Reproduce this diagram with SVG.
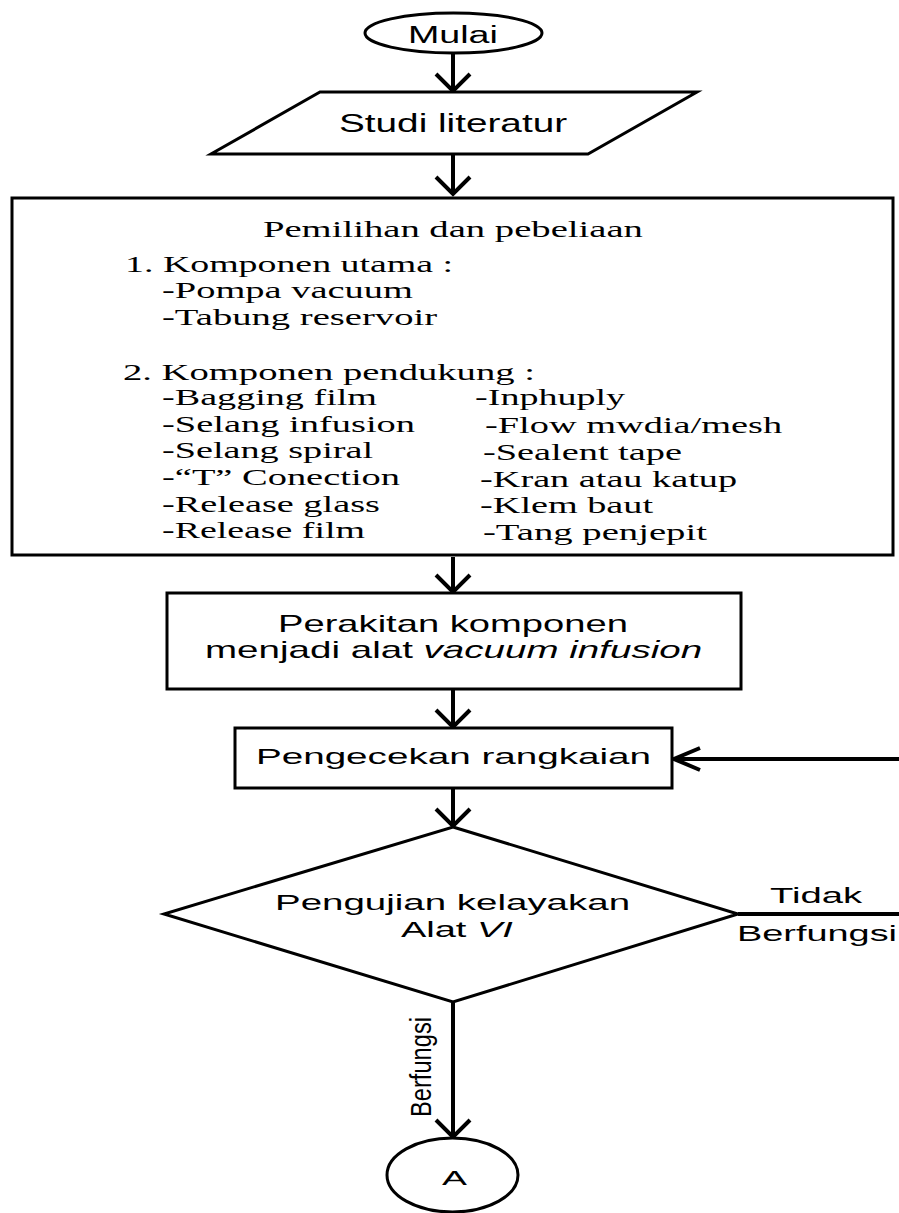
<svg xmlns="http://www.w3.org/2000/svg" width="899" height="1213" viewBox="0 0 899 1213">
<style>
.shape{fill:#fff;stroke:#000;stroke-width:3}
.sans{font-family:"Liberation Sans",Arial,sans-serif;font-size:22px;fill:#000}
.serif{font-family:"Liberation Serif","Times New Roman",serif;font-size:22.5px;fill:#000}
.conn{fill:none;stroke:#000;stroke-width:4}
</style>
<defs>
<marker id="arrV" markerUnits="userSpaceOnUse" viewBox="-22 -22 26 44" refX="0" refY="0" markerWidth="26" markerHeight="44" orient="auto">
<path d="M-17,-17 L0,0 L-17,17" fill="none" stroke="#000" stroke-width="4"/>
</marker>
<marker id="arrH" markerUnits="userSpaceOnUse" viewBox="-30 -16 34 32" refX="0" refY="0" markerWidth="34" markerHeight="32" orient="auto">
<path d="M-26,-11 L0,0 L-26,11" fill="none" stroke="#000" stroke-width="4"/>
</marker>
</defs>
<g id="connectors">
<line class="conn" x1="453" y1="53" x2="453" y2="91" marker-end="url(#arrV)"/>
<line class="conn" x1="453" y1="155" x2="453" y2="194" marker-end="url(#arrV)"/>
<line class="conn" x1="453" y1="557" x2="453" y2="592" marker-end="url(#arrV)"/>
<line class="conn" x1="453" y1="690" x2="453" y2="727" marker-end="url(#arrV)"/>
<line class="conn" x1="453" y1="789" x2="453" y2="826" marker-end="url(#arrV)"/>
<line class="conn" x1="453" y1="1003" x2="453" y2="1137" marker-end="url(#arrV)"/>
<line class="conn" x1="899" y1="759" x2="674" y2="759" marker-end="url(#arrH)"/>
<line class="conn" x1="738" y1="914" x2="899" y2="914"/>
<g transform="scale(1.72,1)">
<text class="sans" x="447.7" y="903" textLength="53.5" lengthAdjust="spacingAndGlyphs">Tidak</text>
<text class="sans" x="428.5" y="941" textLength="93" lengthAdjust="spacingAndGlyphs">Berfungsi</text>
</g>
<text class="sans" transform="translate(431,1067) scale(1.35,1) rotate(-90)" x="-50" y="0" textLength="100" lengthAdjust="spacingAndGlyphs">Berfungsi</text>
</g>
<g id="mulai">
<ellipse class="shape" cx="453.5" cy="33" rx="88.5" ry="20"/>
<text class="sans" transform="scale(1.72,1)" x="237.2" y="43" textLength="52.3" lengthAdjust="spacingAndGlyphs" style="font-size:23.5px">Mulai</text>
</g>
<g id="studi">
<polygon class="shape" points="320,92 697,92 588,154 211,154"/>
<text class="sans" transform="scale(1.72,1)" x="197.1" y="132" textLength="132.6" lengthAdjust="spacingAndGlyphs" style="font-size:25px">Studi literatur</text>
</g>
<g id="pemilihan">
<rect class="shape" x="12" y="198" width="881" height="357" stroke-width="3.5"/>
<g transform="scale(1.72,1)">
<text class="serif" x="152.9" y="237" textLength="220.9" lengthAdjust="spacingAndGlyphs">Pemilihan dan pebeliaan</text>
<text class="serif" x="72.7" y="272" textLength="190.7" lengthAdjust="spacingAndGlyphs">1. Komponen utama :</text>
<text class="serif" x="94.2" y="298" textLength="145.9" lengthAdjust="spacingAndGlyphs">-Pompa vacuum</text>
<text class="serif" x="94.2" y="325" textLength="159.9" lengthAdjust="spacingAndGlyphs">-Tabung reservoir</text>
<text class="serif" x="71.5" y="380" textLength="239.5" lengthAdjust="spacingAndGlyphs">2. Komponen pendukung :</text>
<text class="serif" x="94.2" y="405" textLength="125" lengthAdjust="spacingAndGlyphs">-Bagging film</text>
<text class="serif" x="94.2" y="432" textLength="147.1" lengthAdjust="spacingAndGlyphs">-Selang infusion</text>
<text class="serif" x="94.2" y="458" textLength="122.7" lengthAdjust="spacingAndGlyphs">-Selang spiral</text>
<text class="serif" x="94.2" y="485" textLength="138.4" lengthAdjust="spacingAndGlyphs">-“T” Conection</text>
<text class="serif" x="94.2" y="512" textLength="126.7" lengthAdjust="spacingAndGlyphs">-Release glass</text>
<text class="serif" x="94.2" y="538" textLength="118" lengthAdjust="spacingAndGlyphs">-Release film</text>
<text class="serif" x="276.2" y="405" textLength="87.2" lengthAdjust="spacingAndGlyphs">-Inphuply</text>
<text class="serif" x="282" y="433" textLength="172.7" lengthAdjust="spacingAndGlyphs">-Flow mwdia/mesh</text>
<text class="serif" x="280.8" y="460" textLength="115.7" lengthAdjust="spacingAndGlyphs">-Sealent tape</text>
<text class="serif" x="279.1" y="487" textLength="149.4" lengthAdjust="spacingAndGlyphs">-Kran atau katup</text>
<text class="serif" x="279.1" y="513" textLength="100.6" lengthAdjust="spacingAndGlyphs">-Klem baut</text>
<text class="serif" x="280.8" y="540" textLength="130.2" lengthAdjust="spacingAndGlyphs">-Tang penjepit</text>
</g>
</g>
<g id="perakitan">
<rect class="shape" x="167" y="593" width="574" height="96"/>
<g transform="scale(1.72,1)" style="font-size:23px">
<text class="sans" x="161.6" y="632" textLength="203.5" lengthAdjust="spacingAndGlyphs" style="font-size:23px">Perakitan komponen</text>
<text class="sans" x="119.2" y="658" textLength="289" lengthAdjust="spacingAndGlyphs" style="font-size:23px">menjadi alat <tspan font-style="italic">vacuum infusion</tspan></text>
</g>
</g>
<g id="pengecekan">
<rect class="shape" x="235" y="728" width="437" height="60"/>
<text class="sans" transform="scale(1.72,1)" x="148.8" y="764" textLength="229.7" lengthAdjust="spacingAndGlyphs">Pengecekan rangkaian</text>
</g>
<g id="pengujian">
<polygon class="shape" points="453,827 738,914 453,1002 164,914"/>
<g transform="scale(1.72,1)">
<text class="sans" x="159.9" y="910" textLength="206.4" lengthAdjust="spacingAndGlyphs">Pengujian kelayakan</text>
<text class="sans" x="233.1" y="937" textLength="65.1" lengthAdjust="spacingAndGlyphs">Alat <tspan font-style="italic">VI</tspan></text>
</g>
</g>
<g id="konektorA">
<ellipse class="shape" cx="452.5" cy="1175" rx="65.5" ry="37"/>
<text class="sans" transform="scale(1.72,1)" x="257" y="1185" textLength="14.5" lengthAdjust="spacingAndGlyphs" style="font-size:21px">A</text>
</g>
</svg>
